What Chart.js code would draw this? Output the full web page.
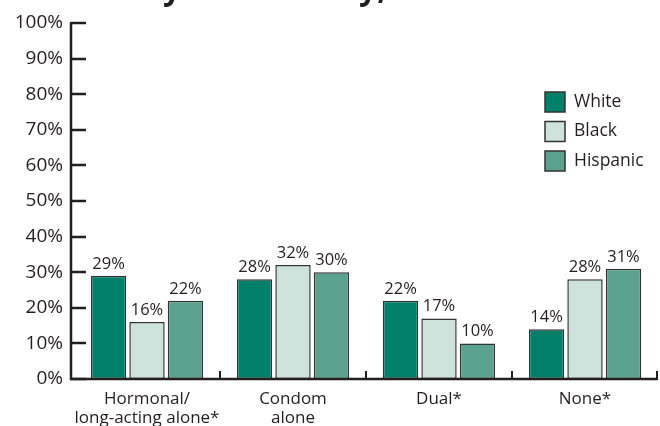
<!DOCTYPE html>
<html>
<head>
<meta charset="utf-8">
<script src="https://cdn.jsdelivr.net/npm/chart.js@4/dist/chart.umd.min.js"></script>
<style>
  html, body { margin: 0; padding: 0; background: #fff; }
  #wrap { width: 660px; height: 426px; position: relative; }
</style>
</head>
<body>
<div id="wrap"><canvas id="methodChart"></canvas></div>
<script>
// Contraceptive method at last sex, by race/ethnicity
const categories = [['Hormonal/', 'long-acting alone*'], ['Condom', 'alone'], ['Dual*'], ['None*']];
const groups = ['White', 'Black', 'Hispanic'];
const white = [29, 28, 22, 14];
const black = [16, 32, 17, 28];
const hispanic = [22, 30, 10, 31];
const yTicks = [0, 10, 20, 30, 40, 50, 60, 70, 80, 90, 100];

const colors = ['#00806a', '#cde2db', '#5aa28d'];
const ink = '#231f20';
const font = 'Open Sans';

// axis lines (y axis sits a little left of the first category),
// inward tick marks on the value axis, category separators on the x axis
const axisTicks = {
    id: 'axisTicks',
    afterDraw(chart) {
        const ctx = chart.ctx;
        const x = chart.scales.x, y = chart.scales.y;
        const ax = x.left - 3;
        ctx.save();
        ctx.strokeStyle = ink;
        ctx.lineWidth = 2.5;
        ctx.beginPath();
        ctx.moveTo(ax, y.top - 1);
        ctx.lineTo(ax, y.bottom);
        ctx.lineTo(x.right, y.bottom);
        ctx.stroke();
        yTicks.forEach(v => {
            const py = Math.round(y.getPixelForValue(v));
            ctx.beginPath();
            ctx.moveTo(ax, py);
            ctx.lineTo(ax + 15, py);
            ctx.stroke();
        });
        ctx.lineWidth = 2;
        for (let i = 1; i <= categories.length; i++) {
            const px = i < categories.length
                ? (x.getPixelForValue(i - 1) + x.getPixelForValue(i)) / 2
                : x.right - 1;
            ctx.beginPath();
            ctx.moveTo(px, y.bottom);
            ctx.lineTo(px, y.bottom - 8);
            ctx.stroke();
        }
        ctx.restore();
    }
};

// percentage above every bar
const barValues = {
    id: 'barValues',
    afterDatasetsDraw(chart) {
        const ctx = chart.ctx;
        ctx.save();
        ctx.fillStyle = ink;
        ctx.font = '16.5px "' + font + '"';
        ctx.textAlign = 'center';
        ctx.textBaseline = 'alphabetic';
        chart.data.datasets.forEach((ds, di) => {
            chart.getDatasetMeta(di).data.forEach((bar, i) => {
                ctx.fillText(ds.data[i] + '%', bar.x, bar.y - 7);
            });
        });
        ctx.restore();
    }
};

// legend box in the upper right of the plot
const sideLegend = {
    id: 'sideLegend',
    afterDraw(chart) {
        const ctx = chart.ctx;
        ctx.save();
        ctx.font = '17.5px "' + font + '"';
        ctx.textBaseline = 'middle';
        chart.data.datasets.forEach((ds, i) => {
            const top = 92 + i * 29.5;
            ctx.fillStyle = ds.backgroundColor;
            ctx.fillRect(545, top, 20, 20);
            ctx.strokeStyle = '#333';
            ctx.lineWidth = 1.5;
            ctx.strokeRect(545, top, 20, 20);
            ctx.fillStyle = ink;
            ctx.fillText(ds.label, 574, top + 10);
        });
        ctx.restore();
    }
};

// title line running off the top edge
const clippedTitle = {
    id: 'clippedTitle',
    afterDraw(chart) {
        const ctx = chart.ctx;
        ctx.save();
        ctx.fillStyle = ink;
        ctx.font = 'bold 32px "' + font + '"';
        ctx.textBaseline = 'alphabetic';
        ctx.fillText('y', 163, -1);
        ctx.fillText('y,', 359, -1);
        ctx.restore();
    }
};

new Chart(document.getElementById('methodChart'), {
    type: 'bar',
    data: {
        labels: categories,
        datasets: [
            { label: groups[0], data: white, backgroundColor: colors[0] },
            { label: groups[1], data: black, backgroundColor: colors[1] },
            { label: groups[2], data: hispanic, backgroundColor: colors[2] }
        ].map(ds => Object.assign(ds, {
            borderColor: '#333',
            borderWidth: 1.5,
            borderSkipped: false,
            categoryPercentage: 0.79,
            barPercentage: 0.92
        }))
    },
    options: {
        responsive: true,
        maintainAspectRatio: false,
        animation: false,
        layout: { padding: { top: 23, right: 2, left: 0, bottom: 0 } },
        plugins: {
            legend: { display: false },
            tooltip: { enabled: false }
        },
        scales: {
            x: {
                grid: { display: false, drawTicks: false },
                border: { display: false },
                ticks: {
                    color: ink,
                    font: { family: font, size: 17, lineHeight: 1.1 },
                    padding: 11,
                    maxRotation: 0,
                    autoSkip: false
                },
                afterFit(scale) { scale.height = 47; }
            },
            y: {
                min: 0,
                max: 100,
                afterBuildTicks(scale) { scale.ticks = yTicks.map(v => ({ value: v })); },
                grid: { display: false, drawTicks: false },
                border: { display: false },
                ticks: {
                    color: ink,
                    font: { family: font, size: 19 },
                    padding: 11,
                    callback: v => v + '%'
                },
                afterFit(scale) { scale.width = 74; }
            }
        }
    },
    plugins: [axisTicks, barValues, sideLegend, clippedTitle]
});
</script>
</body>
</html>
